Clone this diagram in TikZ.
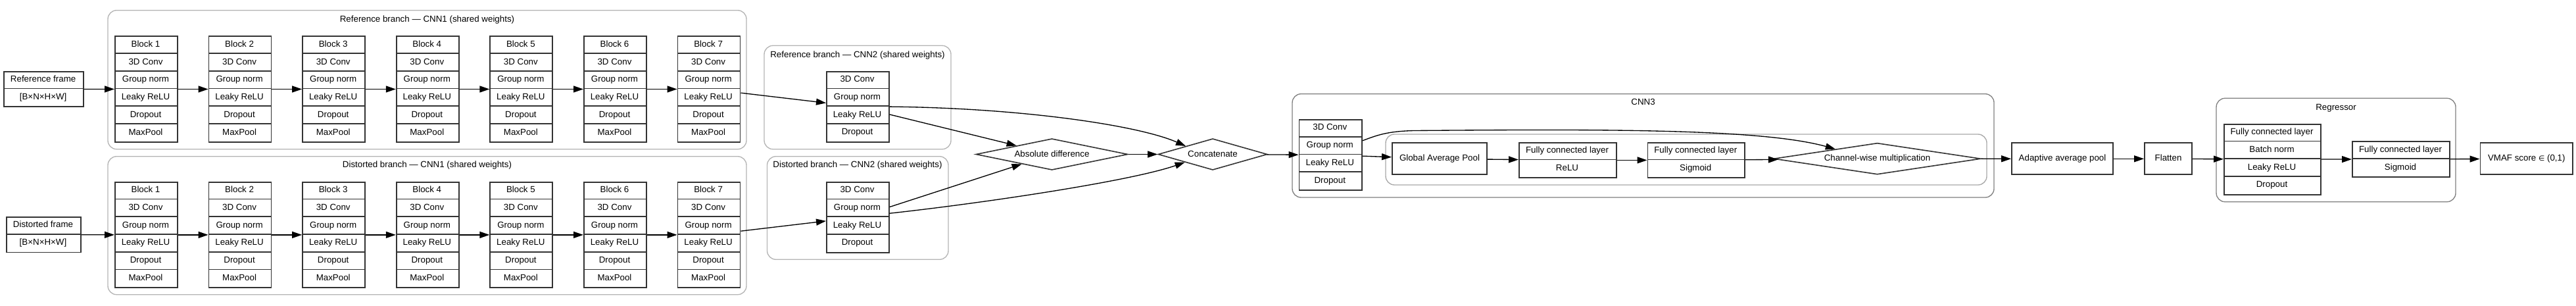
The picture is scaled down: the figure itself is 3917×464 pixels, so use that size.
\documentclass[tikz,border=0pt]{standalone}
\usepackage{fontspec}
\setmainfont{Liberation Sans}
\newfontfamily\djv{DejaVu Sans}
\usetikzlibrary{shapes.geometric,arrows.meta}
\definecolor{boxc}{HTML}{333333}
\definecolor{clA}{HTML}{B4B4B4}
\definecolor{clB}{HTML}{808080}
\definecolor{clC}{HTML}{A8A8A8}
\tikzset{
  recbox/.style={draw=boxc, line width=1.4pt, rectangle, inner sep=0pt},
  rowline/.style={draw=boxc, line width=1.4pt},
  rowtxt/.style={inner sep=0pt, anchor=base, font=\fontsize{10}{12}\selectfont},
  lbl/.style={inner sep=0pt, anchor=base, font=\fontsize{10}{12}\selectfont},
  plainbox/.style={draw=boxc, line width=1.4pt, rectangle, inner sep=0pt, text height=7.5pt, text depth=2pt, font=\fontsize{10}{12}\selectfont},
  dia/.style={draw=boxc, line width=1.2pt, diamond, inner sep=0pt, text height=7.5pt, text depth=2pt, font=\fontsize{10}{12}\selectfont},
  edge/.style={draw=black, line width=1pt, -{Triangle[length=11.25pt,width=7.5pt]}},
  clusterA/.style={draw=clA, line width=1pt, rounded corners=10pt},
  clusterB/.style={draw=clB, line width=1pt, rounded corners=10pt},
  clusterC/.style={draw=clC, line width=1pt, rounded corners=10pt}
}
% record: name, left x, top y, width (px), rows, labels
\newcommand\recnode[6]{%
  \node[recbox, minimum width=#4*0.75pt, minimum height=#5*26.75*0.75pt, anchor=north west] (#1) at ({#2},{#3}) {};
  \foreach \lbl [count=\i from 0] in {#6} {
    \node[rowtxt] (#1-\i) at ({#2+#4/2},{#3+(\i+0.5)*26.75+3.6}) {\lbl};
    \ifnum\i>0 \draw[rowline] ({#2},{#3+\i*26.75}) -- ++(#4,0);\fi
  }%
}
\begin{document}
\begin{tikzpicture}[x=0.75pt,y=-0.75pt]
\useasboundingbox (0,0) rectangle (3917,464);
% clusters
\draw[clusterA] (164,15.7) rectangle (1135,226.7);
\node[lbl] (lref1) at (649.5,33) {Reference branch — CNN1 (shared weights)};
\draw[clusterA] (164,237.7) rectangle (1135,447.7);
\node[lbl] (ldis1) at (649.5,254.7) {Distorted branch — CNN1 (shared weights)};
\draw[clusterA] (1162,69.3) rectangle (1446,226.7);
\node[lbl] (lref2) at (1304,87) {Reference branch — CNN2 (shared weights)};
\draw[clusterA] (1166.5,237.7) rectangle (1442,394.3);
\node[lbl] (ldis2) at (1304,254.7) {Distorted branch — CNN2 (shared weights)};
\draw[clusterB] (1965,142.7) rectangle (3032,300);
\node[lbl] (lcnn3) at (2498.5,159.7) {CNN3};
\draw[clusterC] (2107,204) rectangle (3021,281);
\draw[clusterB] (3370,149.3) rectangle (3734,306.7);
\node[lbl] (lreg) at (3552,167.4) {Regressor};

% inputs
\recnode{rf}{5.4}{107.7}{120.5}{2}{Reference frame,[B×N×H×W]}
\recnode{df}{9}{329}{113}{2}{Distorted frame,[B×N×H×W]}

% CNN1 blocks
\foreach \k in {1,...,7} {
  \pgfmathsetmacro\bx{174+142.6*(\k-1)}
  \recnode{r\k}{\bx}{54.3}{95}{6}{Block \k,3D Conv,Group norm,Leaky ReLU,Dropout,MaxPool}
  \recnode{d\k}{\bx}{275.7}{95}{6}{Block \k,3D Conv,Group norm,Leaky ReLU,Dropout,MaxPool}
}

% CNN2
\recnode{rc2}{1256}{107.7}{95}{4}{3D Conv,Group norm,Leaky ReLU,Dropout}
\recnode{dc2}{1256}{275.7}{95}{4}{3D Conv,Group norm,Leaky ReLU,Dropout}

% diamonds
\node[dia, aspect=4.85, minimum width=231*0.75pt, minimum height=47.6*0.75pt] (ad) at (1599.5,234.5) {Absolute difference};
\node[dia, aspect=3.49, minimum width=166*0.75pt, minimum height=47.6*0.75pt] (cc) at (1844,234.5) {Concatenate};

% CNN3
\recnode{c3}{1974.5}{181}{95.5}{4}{3D Conv,Group norm,Leaky ReLU,Dropout}
\node[plainbox, minimum width=144*0.75pt, minimum height=48*0.75pt] (gap) at (2189,241.3) {Global Average Pool};
\recnode{fc1}{2309}{215.7}{148}{2}{Fully connected layer,ReLU}
\recnode{fc2}{2504.5}{215.7}{147.5}{2}{Fully connected layer,Sigmoid}
\node[dia, aspect=6.6, minimum width=315*0.75pt, minimum height=47.7*0.75pt] (cw) at (2854.5,241.2) {Channel-wise multiplication};

% tail
\node[plainbox, minimum width=154*0.75pt, minimum height=48*0.75pt] (aap) at (3136,241.3) {Adaptive average pool};
\node[plainbox, minimum width=72*0.75pt, minimum height=48*0.75pt] (flat) at (3297,241.3) {Flatten};
\recnode{reg}{3381}{187.7}{147}{4}{Fully connected layer,Batch norm,Leaky ReLU,Dropout}
\recnode{fc3}{3576}{214.3}{148}{2}{Fully connected layer,Sigmoid}
\node[plainbox, minimum width=140.5*0.75pt, minimum height=48*0.75pt] (vmaf) at (3841.7,241.3) {VMAF score {\djv\fontsize{8}{8}\selectfont ∈} (0,1)};

% edges
\draw[edge] (rf) -- (r1);
\draw[edge] (df) -- (d1);
\foreach \k [evaluate=\k as \n using int(\k+1)] in {1,...,6} {
  \draw[edge] (r\k) -- (r\n);
  \draw[edge] (d\k) -- (d\n);
}
\draw[edge] (r7) -- (rc2);
\draw[edge] (d7) -- (dc2);
\draw[edge] (rc2) -- (ad);
\draw[edge] (dc2) -- (ad);
\draw[edge] (rc2.east) .. controls (1550,164) and (1730,190) .. (cc.163);
\draw[edge] (dc2.7) .. controls (1500,308) and (1720,275) .. (cc.196);
\draw[edge] (ad) -- (cc);
\draw[edge] (cc) -- (c3);
\draw[edge] (c3) -- (gap);
\draw[edge] (gap) -- (fc1);
\draw[edge] (fc1) -- (fc2);
\draw[edge] (fc2) -- (cw);
\draw[edge] (c3.24) .. controls (2095,205) and (2110,199.5) .. (2150,198.5) .. controls (2450,196) and (2680,196) .. (cw.167);
\draw[edge] (cw) -- (aap);
\draw[edge] (aap) -- (flat);
\draw[edge] (flat) -- (reg);
\draw[edge] (reg) -- (fc3);
\draw[edge] (fc3) -- (vmaf);
\end{tikzpicture}
\end{document}
